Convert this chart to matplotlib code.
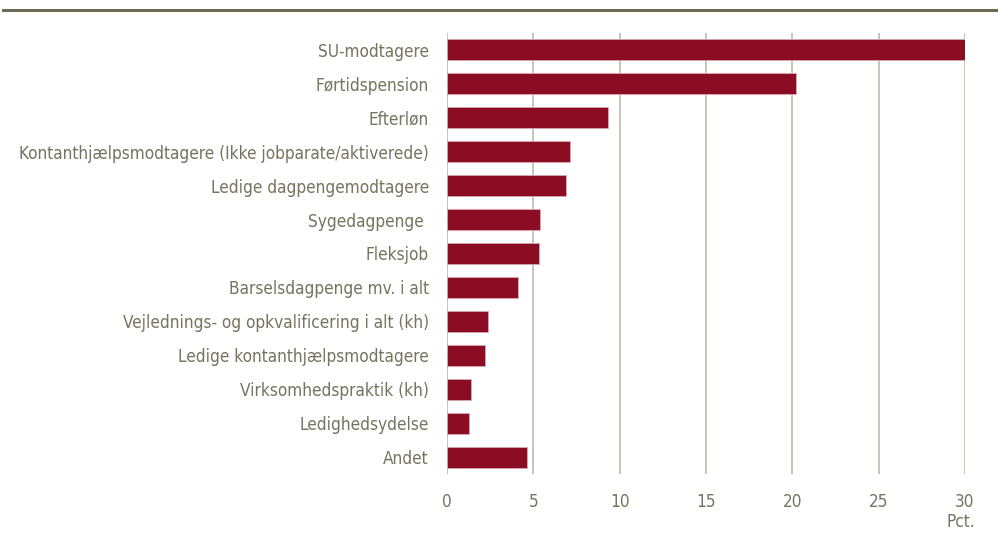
import matplotlib
matplotlib.use("Agg")
import matplotlib.pyplot as plt
from matplotlib import font_manager

categories = [
    "SU-modtagere",
    "Førtidspension",
    "Efterløn",
    "Kontanthjælpsmodtagere (Ikke jobparate/aktiverede)",
    "Ledige dagpengemodtagere",
    "Sygedagpenge ",
    "Fleksjob",
    "Barselsdagpenge mv. i alt",
    "Vejlednings- og opkvalificering i alt (kh)",
    "Ledige kontanthjælpsmodtagere",
    "Virksomhedspraktik (kh)",
    "Ledighedsydelse",
    "Andet",
]
values = [30.0, 20.2, 9.3, 7.1, 6.9, 5.4, 5.3, 4.1, 2.4, 2.2, 1.4, 1.25, 4.65]
x_ticks = [0, 5, 10, 15, 20, 25, 30]
unit_label = "Pct."

# prefer a narrow sans face if one is installed
narrow = None
for f in font_manager.fontManager.ttflist:
    base = f.fname.lower()
    if ("narrow" in base or "condensed" in base) and "bold" not in base and "italic" not in base \
            and "oblique" not in base and ("sans" in base or "roboto" in base):
        narrow = f.fname
        break
if narrow:
    fp = font_manager.FontProperties(fname=narrow, size=12.3)
else:
    fp = font_manager.FontProperties(family=["Liberation Sans", "DejaVu Sans"], size=11.0)

text_color = "#77735e"
grid_color = "#bdbbaa"
bar_color = "#8b0d23"

W, H = 998, 541
fig = plt.figure(figsize=(W / 100, H / 100), dpi=100)
ax = fig.add_axes([447 / W, 1 - 474 / H, (965 - 447) / W, (474 - 33) / H])

y = list(range(len(categories)))
ax.barh(y, values, height=0.62, color=bar_color, edgecolor="#d9a9b1", linewidth=0.6, zorder=3)

ax.set_xlim(0, 30)
ax.set_ylim(len(categories) - 0.5, -0.5)
ax.set_xticks(x_ticks)
ax.set_xticklabels([str(t) for t in x_ticks], fontproperties=fp)
ax.set_yticks(y)
ax.set_yticklabels(categories, fontproperties=fp)
ax.tick_params(axis="both", length=0, colors=text_color)
ax.tick_params(axis="y", pad=13)
ax.tick_params(axis="x", pad=14)
for s in ax.spines.values():
    s.set_visible(False)
ax.grid(axis="x", color=grid_color, linewidth=1.2, zorder=0)
ax.grid(axis="y", visible=False)

fig.text(975 / W, 1 - 522 / H, unit_label, ha="right", va="center",
         color=text_color, fontproperties=fp)

# rule across the top
fig.add_artist(plt.Line2D([3 / W, 1.0], [1 - 9.5 / H, 1 - 9.5 / H],
                          color="#6e6b55", linewidth=2.2, transform=fig.transFigure))

fig.savefig("out.png", dpi=100)
